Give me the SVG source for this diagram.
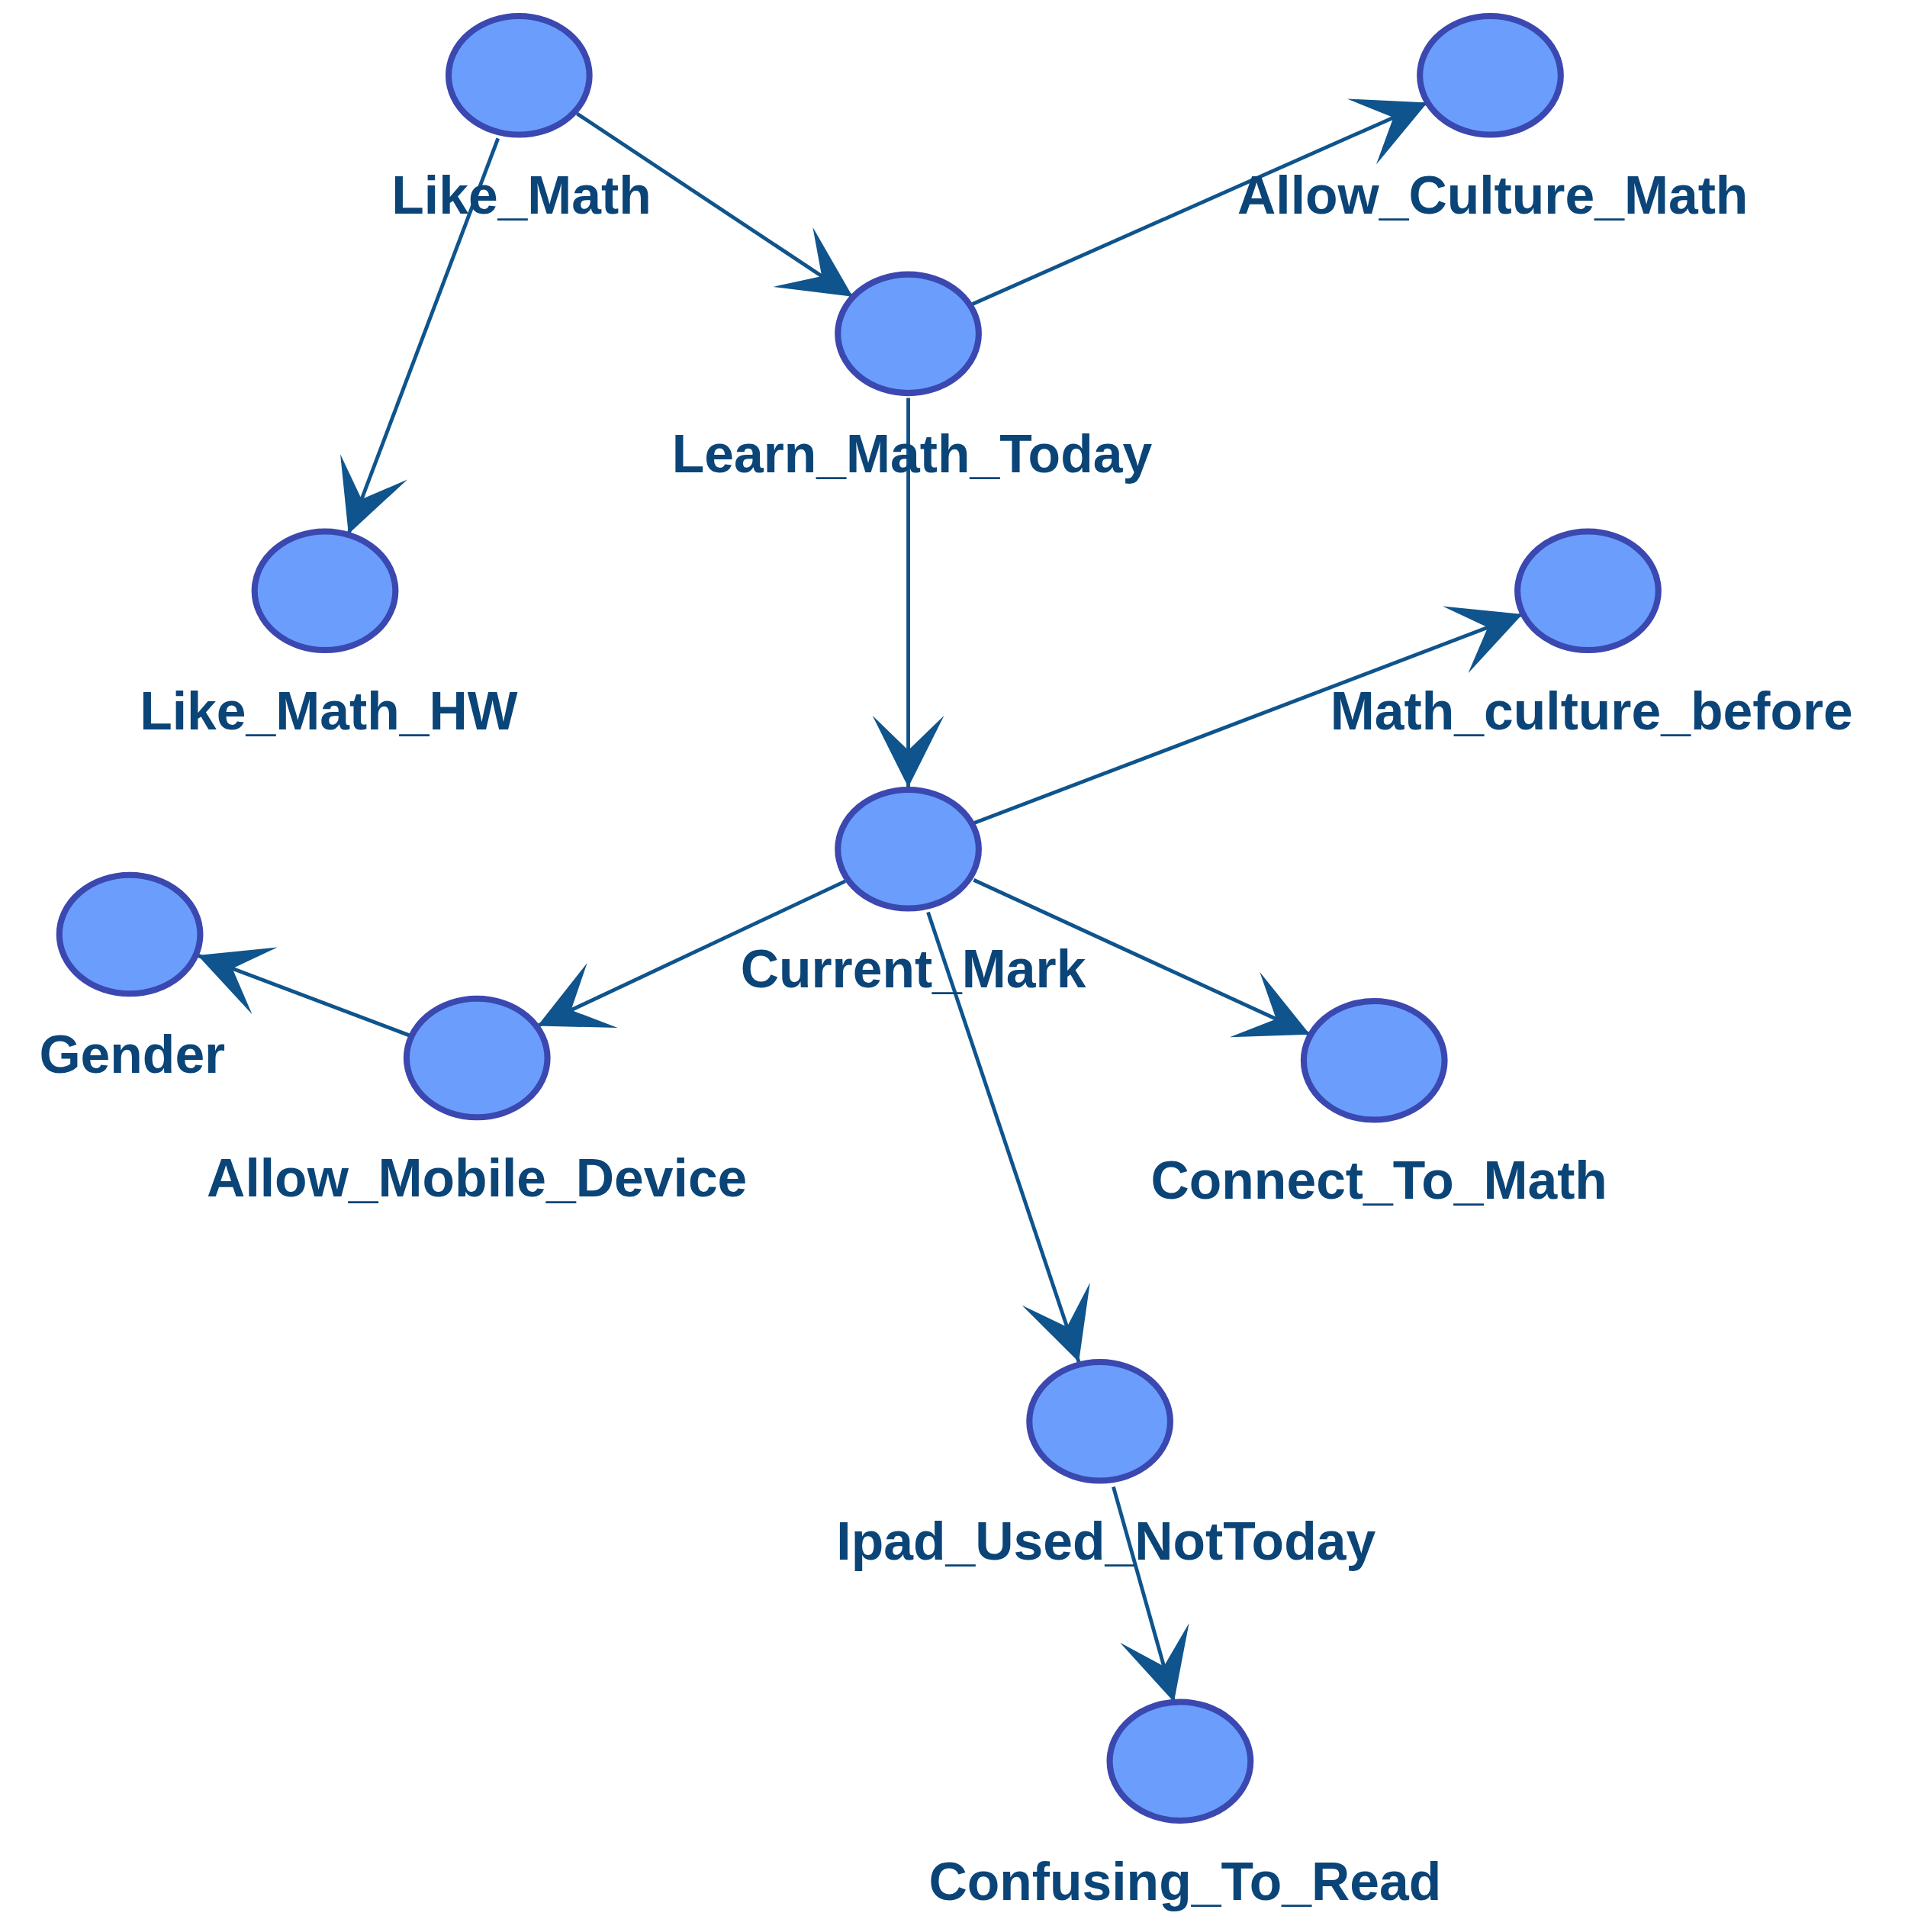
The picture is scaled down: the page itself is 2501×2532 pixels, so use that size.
<svg xmlns="http://www.w3.org/2000/svg" width="2501" height="2532" viewBox="0 0 2501 2532">
<style>
.n{fill:#6b9dfd;stroke:#3a48b0;stroke-width:5}
.e{stroke:#0f548c;stroke-width:3;fill:none;marker-end:url(#a)}
.t{font-family:"Liberation Sans",Arial,sans-serif;font-weight:bold;font-size:43px;fill:#0b4477;text-anchor:middle}
</style>
<defs><marker id="a" markerUnits="userSpaceOnUse" viewBox="-60 -32 62 64" refX="0" refY="0" markerWidth="62" markerHeight="64" orient="auto" overflow="visible"><path d="M0,0 L-58,-29 L-30,0 L-58,29 Z" fill="#0f548c"/></marker></defs>
<rect width="2501" height="2532" fill="#fff"/>
<g transform="scale(1.6198)">
<g id="connectors">
<line class="e" x1="467" y1="92" x2="690" y2="240"/>
<line class="e" x1="403" y1="112" x2="282" y2="432"/>
<line class="e" x1="787" y1="246" x2="1155" y2="83"/>
<line class="e" x1="735" y1="322" x2="735" y2="637"/>
<line class="e" x1="788" y1="666" x2="1232" y2="497"/>
<line class="e" x1="684" y1="713" x2="435" y2="830"/>
<line class="e" x1="788" y1="712" x2="1060" y2="837"/>
<line class="e" x1="751" y1="738" x2="873" y2="1102"/>
<line class="e" x1="332" y1="838" x2="160" y2="773"/>
<line class="e" x1="901" y1="1203" x2="950" y2="1377"/>
</g>
<g id="Like_Math"><ellipse class="n" cx="420" cy="61" rx="57" ry="48"/><text class="t" x="422" y="173">Like_Math</text></g>
<g id="Allow_Culture_Math"><ellipse class="n" cx="1206" cy="61" rx="57" ry="48"/><text class="t" x="1208" y="173">Allow_Culture_Math</text></g>
<g id="Learn_Math_Today"><ellipse class="n" cx="735" cy="270" rx="57" ry="48"/><text class="t" x="738" y="382">Learn_Math_Today</text></g>
<g id="Like_Math_HW"><ellipse class="n" cx="263" cy="478" rx="57" ry="48"/><text class="t" x="266" y="590">Like_Math_HW</text></g>
<g id="Math_culture_before"><ellipse class="n" cx="1285" cy="478" rx="57" ry="48"/><text class="t" x="1288" y="590">Math_culture_before</text></g>
<g id="Current_Mark"><ellipse class="n" cx="735" cy="687" rx="57" ry="48"/><text class="t" x="739" y="799">Current_Mark</text></g>
<g id="Gender"><ellipse class="n" cx="105" cy="756" rx="57" ry="48"/><text class="t" x="107" y="868">Gender</text></g>
<g id="Allow_Mobile_Device"><ellipse class="n" cx="386" cy="856" rx="57" ry="48"/><text class="t" x="386" y="968">Allow_Mobile_Device</text></g>
<g id="Connect_To_Math"><ellipse class="n" cx="1112" cy="858" rx="57" ry="48"/><text class="t" x="1116" y="970">Connect_To_Math</text></g>
<g id="Ipad_Used_NotToday"><ellipse class="n" cx="890" cy="1150" rx="57" ry="48"/><text class="t" x="895" y="1262">Ipad_Used_NotToday</text></g>
<g id="Confusing_To_Read"><ellipse class="n" cx="955" cy="1425" rx="57" ry="48"/><text class="t" x="959" y="1537">Confusing_To_Read</text></g>
</g>
</svg>
